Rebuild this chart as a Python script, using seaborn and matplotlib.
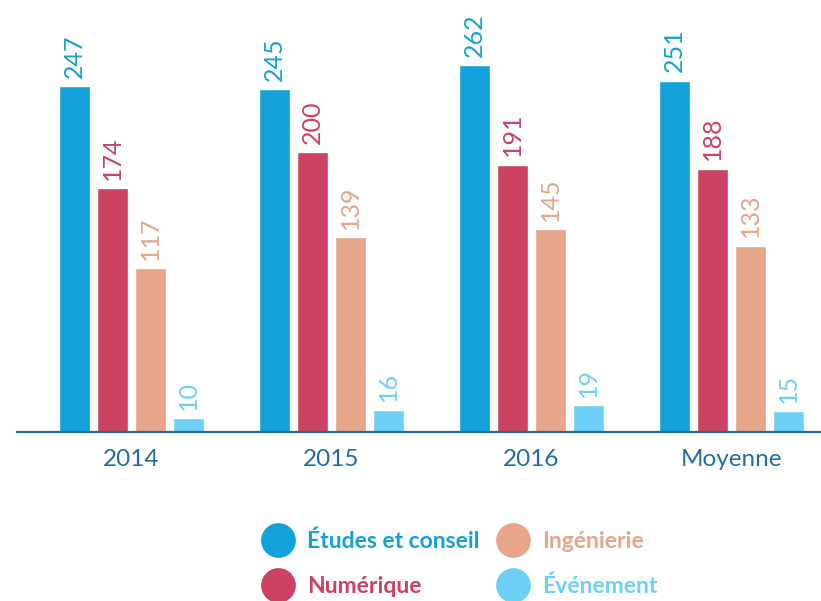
import matplotlib
matplotlib.use("Agg")
import matplotlib.pyplot as plt
from matplotlib.lines import Line2D
import pandas as pd
import seaborn as sns

# data
groups = ["2014", "2015", "2016", "Moyenne"]
categories = ["Études et conseil", "Numérique", "Ingénierie", "Événement"]
etudes = [247, 245, 262, 251]
numerique = [174, 200, 191, 188]
ingenierie = [117, 139, 145, 133]
evenement = [10, 16, 19, 15]

colors = ["#12a1db", "#cc4262", "#e7a68a", "#6ed0f6"]
axis_blue = "#1f6db0"

rows = []
for cat, vals in zip(categories, [etudes, numerique, ingenierie, evenement]):
    for g, v in zip(groups, vals):
        rows.append({"groupe": g, "categorie": cat, "valeur": v})
df = pd.DataFrame(rows)

sns.set_style("white")
plt.rcParams["font.family"] = ["Lato", "DejaVu Sans"]

fig = plt.figure(figsize=(8.21, 6.01), dpi=100)
ax = fig.add_axes([17 / 821, 169 / 601, 804 / 821, 432 / 601])

sns.barplot(data=df, x="groupe", y="valeur", hue="categorie",
            order=groups, hue_order=categories, palette=colors,
            saturation=1, width=0.76, gap=0.16, legend=False, ax=ax)

for cont, col in zip(ax.containers, colors):
    ax.bar_label(cont, rotation=90, padding=6, color=col, fontsize=18)

ax.set_xlim(-0.5725, 3.4475)
ax.set_ylim(0, 308.6)
ax.set_xlabel("")
ax.set_ylabel("")
ax.set_yticks([])
for s in ["top", "right", "left"]:
    ax.spines[s].set_visible(False)
ax.spines["bottom"].set_color(axis_blue)
ax.spines["bottom"].set_linewidth(1.6)
ax.tick_params(axis="x", length=0, pad=12, labelsize=17.5, labelcolor=axis_blue)

handles = [Line2D([0], [0], marker="o", linestyle="", markersize=24,
                  markerfacecolor=c, markeredgecolor=c) for c in colors]
leg = fig.legend(handles, categories, ncol=2, frameon=False,
                 loc="upper left", bbox_to_anchor=(252 / 821, 1 - 521 / 601),
                 prop={"weight": "bold", "size": 16.5},
                 labelcolor=colors, handlelength=1.45, handletextpad=0.55,
                 columnspacing=0.75, labelspacing=1.05, borderaxespad=0)

fig.savefig("out.png", dpi=100)
